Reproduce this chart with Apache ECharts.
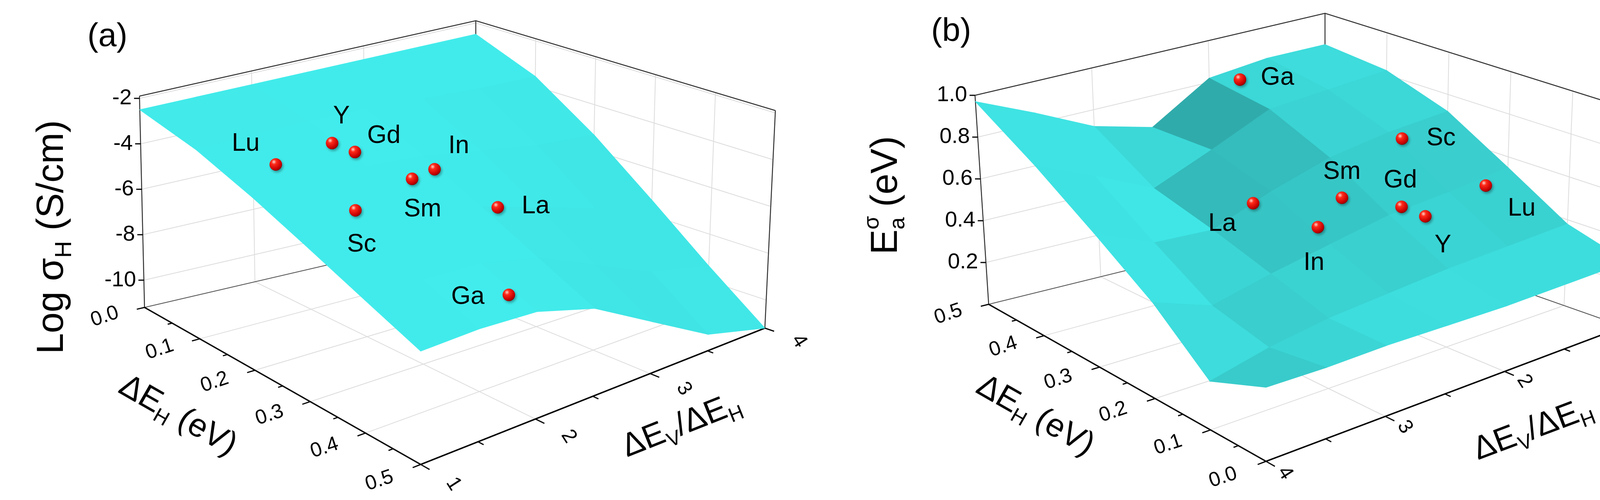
<!DOCTYPE html>
<html>
<head>
<meta charset="UTF-8">
<title>surface</title>
<script src="https://cdn.jsdelivr.net/npm/echarts@6/dist/echarts.min.js"></script>
<style>
  html, body { margin: 0; padding: 0; background: #fff; }
  #main { width: 4233px; height: 1280px; }
</style>
</head>
<body>
<div id="main"></div>
<script>
// grid of the two surfaces
const hGrid = [0, 0.1, 0.2, 0.3, 0.4, 0.5];          // ΔE_H (eV)
const rGrid = [1, 1.5, 2, 2.5, 3, 3.5, 4];            // ΔE_V/ΔE_H
// Log σ_H, rows = hGrid, columns = rGrid
const logSigma = [
  [-2.5, -2.5, -2.5, -2.5, -2.5, -2.5, -2.5],
  [-2.98, -2.98, -3.0, -3.1, -3.28, -3.46, -3.56],
  [-3.78, -3.78, -3.84, -4.1, -4.58, -5.06, -5.32],
  [-4.7, -4.7, -4.81, -5.25, -6.08, -6.9, -7.34],
  [-5.62, -5.62, -5.78, -6.4, -7.57, -8.74, -9.36],
  [-6.5, -6.5, -6.7, -7.5, -9.0, -10.5, -11.2]
];
// E_a (eV), rows = hGrid, columns = rGrid
const activation = [
  [0.30, 0.30, 0.30, 0.31, 0.32, 0.32, 0.33],
  [0.38, 0.37, 0.36, 0.34, 0.32, 0.28, 0.22],
  [0.55, 0.52, 0.50, 0.45, 0.40, 0.34, 0.44],
  [0.72, 0.70, 0.66, 0.58, 0.48, 0.50, 0.62],
  [0.82, 0.80, 0.78, 0.66, 0.55, 0.68, 0.80],
  [0.85, 0.85, 0.82, 0.65, 0.72, 0.85, 0.97]
];

// dopants
const dopants = ['Lu', 'Y', 'Gd', 'In', 'Sm', 'Sc', 'La', 'Ga'];
const dopantEH = [0.10, 0.10, 0.12, 0.16, 0.18, 0.20, 0.25, 0.35];
const dopantRatio = [1.7, 2.2, 2.3, 2.8, 2.5, 1.9, 2.9, 2.5];
const dopantSigma = [-4.5, -4.2, -4.5, -5.5, -5.3, -5.6, -6.4, -8.5];
const dopantEa = [0.69, 0.64, 0.68, 0.63, 0.69, 0.84, 0.65, 1.05];

// ticks
const hTicks = [0, 0.1, 0.2, 0.3, 0.4, 0.5];
const rTicks = [1, 2, 3, 4];
const sigmaTicks = [-10, -8, -6, -4, -2];
const eaTicks = [0.2, 0.4, 0.6, 0.8, 1.0];

const FONT = '"Liberation Sans", Arial, sans-serif';

// panel geometry (pixel corners of the box, b = floor, t = top)
const panelA = {
  zMin: -11.2, zMax: -1.9,
  p00: { b: [370, 787], t: [357, 246] },     // h=0,   r=1
  p10: { b: [1077, 1189], t: [1077, 615] },  // h=0.5, r=1
  p01: { b: [1218, 590], t: [1218, 53] },    // h=0,   r=4
  p11: { b: [1958, 840], t: [1985, 283] },   // h=0.5, r=4
  zAt: { h: 0, r: 1 }, backAt: { h: 0, r: 4 }, sideAt: { h: 0.5, r: 4 },
  hAxisR: 1, rDir: -1, rAxisH: 0.5, hDir: 1, rLabelOff: 0.055,
  light: [0.4, 0.2, 1], shade: [0.72, 0.28],
  zLabel: v => String(v),
  labelOffset: [[-77, -53], [24, -68], [74, -41], [62, -59], [27, 78], [16, 88], [97, -2], [-105, 6]]
};
const panelB = {
  zMin: 0, zMax: 1.0,
  p00: { b: [4157, 836], t: [4185, 283] },
  p10: { b: [3392, 567], t: [3392, 34] },
  p01: { b: [3241, 1181], t: [3241, 607] },
  p11: { b: [2531, 779], t: [2496, 244] },
  zAt: { h: 0.5, r: 4 }, backAt: { h: 0.5, r: 1 }, sideAt: { h: 0, r: 1 },
  hAxisR: 4, rDir: 1, rAxisH: 0, hDir: -1, rLabelOff: 0.03,
  light: [-0.2, -0.6, 1], shade: [0.6, 0.4],
  zLabel: v => v.toFixed(1),
  labelOffset: [[92, 59], [45, 75], [-3, -67], [-10, 92], [0, -66], [100, 0], [-79, 53], [96, -4]]
};

function bil(P, u, v, k) {
  const a = P.p00[k], b = P.p10[k], c = P.p01[k], d = P.p11[k];
  const w0 = (1 - u) * (1 - v), w1 = u * (1 - v), w2 = (1 - u) * v, w3 = u * v;
  return [w0 * a[0] + w1 * b[0] + w2 * c[0] + w3 * d[0], w0 * a[1] + w1 * b[1] + w2 * c[1] + w3 * d[1]];
}
function proj(P, h, r, z) {
  const u = h / 0.5, v = (r - 1) / 3, w = (z - P.zMin) / (P.zMax - P.zMin);
  const b = bil(P, u, v, 'b'), t = bil(P, u, v, 't');
  return [b[0] + w * (t[0] - b[0]), b[1] + w * (t[1] - b[1])];
}

const ctx = document.createElement('canvas').getContext('2d');
function textW(t, s) { ctx.font = s + 'px ' + FONT; return ctx.measureText(t).width; }

function line(pts, color, width) {
  return { type: 'polyline', shape: { points: pts }, style: { stroke: color, lineWidth: width, fill: null }, silent: true };
}
function txt(t, x, y, s, opts) {
  return Object.assign({ type: 'text', x: x, y: y, silent: true,
    style: Object.assign({ text: t, fontSize: s, fontFamily: FONT, fill: '#000', align: 'center', verticalAlign: 'middle' }, (opts && opts.style) || {}) },
    (opts && opts.el) || {});
}
// title made of pieces (sub/superscripts), centred on x,y and rotated
function title(x, y, rot, parts) {
  let cx = 0, kids = [];
  parts.forEach(p => {
    kids.push({ type: 'text', x: cx, y: p.dy || 0, style: { text: p.t, fontSize: p.s, fontFamily: FONT, fill: '#000', verticalAlign: 'middle' } });
    if (!p.stack) cx += textW(p.t, p.s);
  });
  kids.forEach(k => { k.x -= cx / 2; });
  return { type: 'group', x: x, y: y, rotation: rot, children: kids, silent: true };
}

function frame(P) {
  const out = [];
  const zs = P.zMin, ze = P.zMax, grid = '#dcdcdc';
  const w1h = P.zAt.h, w2r = P.backAt.r;
  (P === panelA ? sigmaTicks : eaTicks).forEach(z => {
    out.push(line([proj(P, w1h, P.zAt.r, z), proj(P, w1h, P.backAt.r, z), proj(P, P.sideAt.h, w2r, z)], grid, 2));
  });
  rTicks.forEach(r => {
    out.push(line([proj(P, w1h, r, zs), proj(P, w1h, r, ze)], grid, 2));
    out.push(line([proj(P, 0, r, zs), proj(P, 0.5, r, zs)], grid, 2));
  });
  hTicks.forEach(h => {
    out.push(line([proj(P, h, w2r, zs), proj(P, h, w2r, ze)], grid, 2));
    out.push(line([proj(P, h, 1, zs), proj(P, h, 4, zs)], grid, 2));
  });
  const dark = '#333';
  [P.zAt, P.backAt, P.sideAt].forEach(c => out.push(line([proj(P, c.h, c.r, zs), proj(P, c.h, c.r, ze)], dark, 2.5)));
  out.push(line([proj(P, P.zAt.h, P.zAt.r, ze), proj(P, P.backAt.h, P.backAt.r, ze), proj(P, P.sideAt.h, P.sideAt.r, ze)], dark, 2.5));
  out.push(line([proj(P, P.zAt.h, P.zAt.r, zs), proj(P, P.backAt.h, P.backAt.r, zs), proj(P, P.sideAt.h, P.sideAt.r, zs)], '#555', 2));
  out.push(line([proj(P, 0, P.hAxisR, zs), proj(P, 0.5, P.hAxisR, zs)], '#000', 3.5));
  out.push(line([proj(P, P.rAxisH, 1, zs), proj(P, P.rAxisH, 4, zs)], '#000', 3.5));
  return out;
}

function axisText(P) {
  const out = [];
  const zs = P.zMin;
  (P === panelA ? sigmaTicks : eaTicks).forEach(z => {
    const p = proj(P, P.zAt.h, P.zAt.r, z);
    out.push(line([p, [p[0] - 14, p[1]]], '#000', 3));
    out.push(txt(P.zLabel(z), p[0] - 20, p[1], 56, { style: { align: 'right' } }));
  });
  for (let h = 0; h <= 0.5001; h += 0.05) {
    const major = Math.abs(h * 10 - Math.round(h * 10)) < 1e-6;
    const p = proj(P, h, P.hAxisR, zs), q = proj(P, h, P.hAxisR + P.rDir * (major ? 0.07 : 0.04), zs);
    out.push(line([p, q], '#000', 3));
  }
  hTicks.forEach(h => {
    const p = proj(P, h, P.hAxisR + P.rDir * 0.36, zs);
    out.push(txt(h.toFixed(1), p[0], p[1], 52, { el: { rotation: 0.32 } }));
  });
  for (let r = 1; r <= 4.0001; r += 0.5) {
    const major = Math.abs(r - Math.round(r)) < 1e-6;
    const p = proj(P, P.rAxisH, r, zs), q = proj(P, P.rAxisH + P.hDir * (major ? 0.016 : 0.01), r, zs);
    out.push(line([p, q], '#000', 3));
  }
  rTicks.forEach(r => {
    const p = proj(P, P.rAxisH + P.hDir * P.rLabelOff, r, zs);
    out.push(txt(String(r), p[0] + 6, p[1] + 6, 52, { el: { rotation: -1.0 } }));
  });
  return out;
}

function surface(P, Z) {
  const quads = [];
  const L = P.light, ln = Math.hypot(L[0], L[1], L[2]);
  const wv = (i, j) => (Z[i][j] - P.zMin) / (P.zMax - P.zMin);
  for (let i = 0; i < hGrid.length - 1; i++) {
    for (let j = 0; j < rGrid.length - 1; j++) {
      const du = (hGrid[i + 1] - hGrid[i]) / 0.5, dv = (rGrid[j + 1] - rGrid[j]) / 3;
      const gu = ((wv(i + 1, j) + wv(i + 1, j + 1)) - (wv(i, j) + wv(i, j + 1))) / 2 / du;
      const gv = ((wv(i, j + 1) + wv(i + 1, j + 1)) - (wv(i, j) + wv(i + 1, j))) / 2 / dv;
      const nl = Math.hypot(gu, gv, 1);
      let d = (-gu * L[0] - gv * L[1] + L[2]) / (nl * ln);
      d = Math.max(0, Math.min(1, d));
      const k = P.shade[0] + P.shade[1] * d;
      const col = 'rgb(' + Math.round(66 * k) + ',' + Math.round(236 * k) + ',' + Math.round(236 * k) + ')';
      const hm = (hGrid[i] + hGrid[i + 1]) / 2, rm = (rGrid[j] + rGrid[j + 1]) / 2;
      const depth = P === panelA ? (1 - hm / 0.5) + (rm - 1) / 3 : hm / 0.5 + (4 - rm) / 3;
      quads.push({ depth: depth, el: {
        type: 'polygon', silent: true,
        shape: { points: [proj(P, hGrid[i], rGrid[j], Z[i][j]), proj(P, hGrid[i + 1], rGrid[j], Z[i + 1][j]),
                          proj(P, hGrid[i + 1], rGrid[j + 1], Z[i + 1][j + 1]), proj(P, hGrid[i], rGrid[j + 1], Z[i][j + 1])] },
        style: { fill: col, stroke: col, lineWidth: 1.5 } } });
    }
  }
  quads.sort((a, b) => b.depth - a.depth);
  return quads.map(q => q.el);
}

function spheres(P, zVals) {
  const out = [];
  dopants.forEach((name, k) => {
    const p = proj(P, dopantEH[k], dopantRatio[k], zVals[k]);
    out.push({ type: 'circle', silent: true, shape: { cx: p[0], cy: p[1], r: 16 },
      style: { fill: { type: 'radial', x: 0.35, y: 0.3, r: 0.8, colorStops: [
        { offset: 0, color: '#ffd6cc' }, { offset: 0.25, color: '#ff2a1a' }, { offset: 0.75, color: '#c40000' }, { offset: 1, color: '#6a0000' }] },
        shadowBlur: 6, shadowColor: 'rgba(0,0,0,0.35)', shadowOffsetX: 3, shadowOffsetY: 4 } });
    const o = P.labelOffset[k];
    out.push(txt(name, p[0] + o[0], p[1] + o[1], 64));
  });
  return out;
}

function layer(children) {
  return { type: 'custom', coordinateSystem: 'none', data: [0], silent: true, animation: false,
    renderItem: () => ({ type: 'group', children: children }) };
}

const chart = echarts.init(document.getElementById('main'));
chart.setOption({
  animation: false,
  series: [
    layer(frame(panelA)), layer(surface(panelA, logSigma)), layer(spheres(panelA, dopantSigma)), layer(axisText(panelA)),
    layer(frame(panelB)), layer(surface(panelB, activation)), layer(spheres(panelB, dopantEa)), layer(axisText(panelB)),
    layer([
      txt('(a)', 275, 95, 84), txt('(b)', 2435, 82, 84),
      title(135, 607, Math.PI / 2, [{ t: 'Log σ', s: 96 }, { t: 'H', s: 60, dy: 30 }, { t: ' (S/cm)', s: 96 }]),
      title(455, 1065, -0.52, [{ t: 'ΔE', s: 84 }, { t: 'H', s: 52, dy: 26 }, { t: ' (eV)', s: 84 }]),
      title(1745, 1090, 0.38, [{ t: 'ΔE', s: 84 }, { t: 'V', s: 52, dy: 26 }, { t: '/ΔE', s: 84 }, { t: 'H', s: 52, dy: 26 }]),
      title(2270, 500, Math.PI / 2, [{ t: 'E', s: 96 }, { t: 'σ', s: 56, dy: -36, stack: true }, { t: 'a', s: 56, dy: 30 }, { t: ' (eV)', s: 96 }]),
      title(2650, 1065, -0.52, [{ t: 'ΔE', s: 84 }, { t: 'H', s: 52, dy: 26 }, { t: ' (eV)', s: 84 }]),
      title(3925, 1100, 0.36, [{ t: 'ΔE', s: 84 }, { t: 'V', s: 52, dy: 26 }, { t: '/ΔE', s: 84 }, { t: 'H', s: 52, dy: 26 }])
    ])
  ]
});
</script>
</body>
</html>
